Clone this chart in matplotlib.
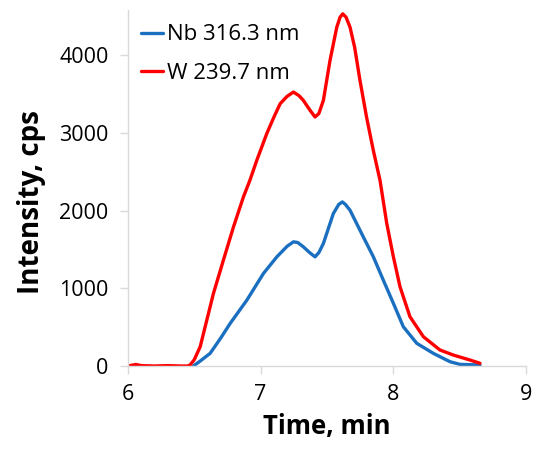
import matplotlib
matplotlib.use("Agg")
import matplotlib.pyplot as plt

# Data
w_time = [6.0, 6.03, 6.06, 6.1, 6.2, 6.3, 6.4, 6.45, 6.469, 6.50, 6.545, 6.595, 6.645, 6.72, 6.796,
          6.871, 6.92, 6.972, 7.047, 7.10, 7.148, 7.20, 7.248, 7.29, 7.323, 7.37, 7.411, 7.44,
          7.474, 7.524, 7.575, 7.600, 7.620, 7.645, 7.675, 7.71, 7.75, 7.80, 7.85, 7.901, 7.952,
          8.002, 8.052, 8.127, 8.228, 8.353, 8.454, 8.579, 8.655]
w_int = [0, 10, 20, 5, 0, 5, 0, 0, 13, 80, 248, 591, 934, 1362, 1790,
         2176, 2391, 2648, 2991, 3200, 3376, 3470, 3526, 3480, 3419, 3300, 3205, 3250,
         3419, 3933, 4361, 4490, 4533, 4490, 4361, 4100, 3676, 3200, 2780, 2391, 1834,
         1405, 1019, 634, 377, 206, 141, 77, 35]

nb_time = [6.494, 6.55, 6.62, 6.70, 6.771, 6.897, 7.022, 7.123, 7.20, 7.248, 7.28, 7.323, 7.37,
           7.411, 7.44, 7.474, 7.549, 7.59, 7.617, 7.64, 7.675, 7.70, 7.75, 7.775, 7.851, 7.926,
           8.002, 8.077, 8.178, 8.303, 8.429, 8.504, 8.655]
nb_int = [0, 70, 163, 360, 548, 848, 1191, 1405, 1540, 1598, 1590, 1534, 1460,
          1405, 1460, 1577, 1962, 2080, 2112, 2080, 2005, 1919, 1748, 1662, 1405, 1105,
          806, 505, 292, 163, 55, 21, 13]

x_ticks = [6, 7, 8, 9]
y_ticks = [0, 1000, 2000, 3000, 4000]

font = "Open Sans"
fig = plt.figure(figsize=(5.42, 4.63), dpi=100)
ax = fig.add_axes([0.236, 0.2095, 0.734, 0.7685])

ax.plot(nb_time, nb_int, color="#1a6fc0", lw=2.4, label="Nb 316.3 nm",
        solid_joinstyle="round", solid_capstyle="round")
ax.plot(w_time, w_int, color="#ff0000", lw=2.4, label="W 239.7 nm",
        solid_joinstyle="round", solid_capstyle="round")

ax.set_xlim(6, 9)
ax.set_ylim(0, 4580)
ax.set_xticks(x_ticks)
ax.set_yticks(y_ticks)
ax.set_xticklabels([str(v) for v in x_ticks], fontsize=15.5, family=font)
ax.set_yticklabels([str(v) for v in y_ticks], fontsize=15.5, family=font)

for s in ["top", "right"]:
    ax.spines[s].set_visible(False)
for s in ["left", "bottom"]:
    ax.spines[s].set_color("#d9d9d9")
    ax.spines[s].set_linewidth(1.0)
ax.tick_params(axis="both", colors="#d9d9d9", length=6, width=1.0, labelcolor="black")
ax.tick_params(axis="x", pad=7)
ax.tick_params(axis="y", pad=8)

ax.set_xlabel("Time, min", fontsize=18.5, fontweight="bold", family=font, labelpad=6)
ax.set_ylabel("Intensity, cps", fontsize=20, fontweight="bold", family=font)
ax.yaxis.set_label_coords(-0.205, 0.46)

leg = ax.legend(loc="upper left", frameon=False, handlelength=1.0, handletextpad=0.2,
                borderaxespad=0.0, labelspacing=0.8, bbox_to_anchor=(0.01, 0.985),
                prop={"family": font, "size": 16})

fig.savefig("out.png", dpi=100)
